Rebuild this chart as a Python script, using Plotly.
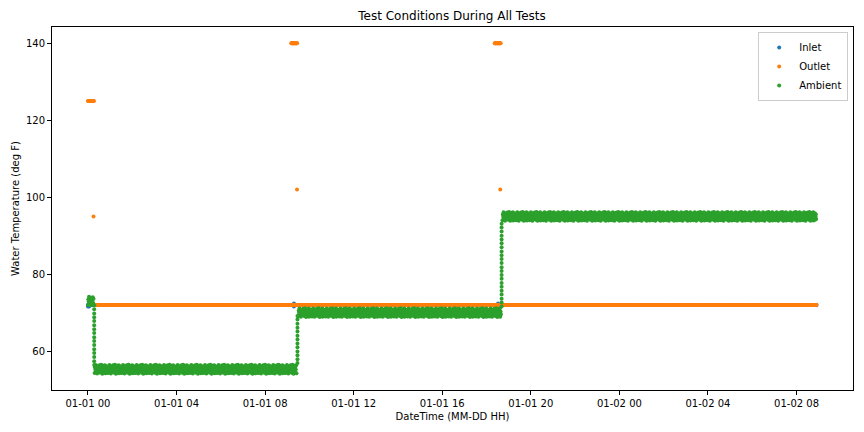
import numpy as np
import pandas as pd
import plotly.graph_objects as go

# Start of the logged period; every time below is hours after it
T0 = pd.Timestamp("2021-01-01 00:00")
STEP_MIN = 1

# Inlet: flat plateaus (start hr, end hr, deg F) plus a few stray readings
inlet_start = [0.0]
inlet_end = [32.9]
inlet_level = [72.0]
inlet_extra_hr = [0.0, 0.05, 9.30, 9.30, 18.52, 18.52]
inlet_extra_val = [71.6, 71.6, 72.4, 71.6, 72.4, 71.7]

# Outlet: plateaus, hot-draw plateaus and single spike readings
outlet_start = [0.0, 0.30, 9.18, 18.37]
outlet_end = [0.27, 32.9, 9.45, 18.65]
outlet_level = [125.0, 72.0, 140.0, 140.0]
outlet_spike_hr = [0.25, 9.44, 18.62]
outlet_spike_val = [95.0, 102.0, 102.0]

# Ambient: plateaus, sensor scatter around them, and the step changes
ambient_start = [0.0, 0.30, 9.50, 18.72]
ambient_end = [0.25, 9.42, 18.65, 32.9]
ambient_level = [73.0, 55.3, 70.0, 95.0]
ambient_scatter = [-1.0, 0.5, -0.1, 1.1, -0.6, 0.2, 0.8, -1.1, 0.4, -0.4,
                   0.7, -0.7, 0.0, 1.0, -0.5, 0.6, -0.9, 0.1, 1.15, -0.2,
                   0.4, -1.15, 0.2, -0.55, 0.9, -0.8, 0.65, -0.05, 1.05,
                   -1.05, 0.3, -0.4, 0.8, -0.9, 0.05, 0.55, -0.65]
step_hr = [0.28, 9.46, 18.68]
step_vals = [
    [71.9, 70.9, 69.8, 68.8, 67.8, 66.7, 65.7, 64.7, 63.6, 62.6, 61.6, 60.5,
     59.5, 58.5, 57.4, 56.4],
    [56.9, 57.9, 58.9, 59.9, 61.0, 62.0, 63.0, 64.0, 65.1, 66.1, 67.1, 68.2,
     69.1],
    [71.6, 72.6, 73.6, 74.7, 75.7, 76.7, 77.7, 78.8, 79.8, 80.8, 81.8, 82.9,
     83.9, 84.9, 85.9, 87.0, 88.0, 89.0, 90.0, 91.1, 92.1, 93.1],
]


def hours_to_time(hrs):
    return [T0 + pd.Timedelta(hours=h) for h in hrs]


def plateaus(starts, ends, levels, scatter=None):
    xs, ys = [], []
    for s, e, lv in zip(starts, ends, levels):
        hrs = np.arange(s, e + 1e-9, STEP_MIN / 60)
        xs.extend(hrs)
        if scatter:
            ys.extend(lv + scatter[i % len(scatter)] for i in range(len(hrs)))
        else:
            ys.extend([lv] * len(hrs))
    return xs, ys


in_x, in_y = plateaus(inlet_start, inlet_end, inlet_level)
in_x += inlet_extra_hr
in_y += inlet_extra_val

out_x, out_y = plateaus(outlet_start, outlet_end, outlet_level)
out_x += outlet_spike_hr
out_y += outlet_spike_val

amb_x, amb_y = plateaus(ambient_start, ambient_end, ambient_level, ambient_scatter)
for h, vals in zip(step_hr, step_vals):
    amb_x += [h] * len(vals)
    amb_y += vals

series = [
    ("Inlet", in_x, in_y, "#1f77b4"),
    ("Outlet", out_x, out_y, "#ff7f0e"),
    ("Ambient", amb_x, amb_y, "#2ca02c"),
]

fig = go.Figure()
for name, xs, ys, color in series:
    fig.add_trace(go.Scatter(
        x=hours_to_time(xs), y=ys, mode="markers", name=name,
        marker=dict(size=4, color=color, line=dict(width=0)),
    ))

axis_style = dict(
    showline=True, linecolor="black", linewidth=1, mirror=True,
    ticks="outside", ticklen=4, tickcolor="black", showgrid=False,
    zeroline=False, tickfont=dict(size=10, color="black"), automargin=False,
)

# the page body adds an 8px offset, so the figure is 8px smaller each way
fig.update_layout(
    width=856, height=424,
    margin=dict(l=44, r=11, t=19, b=42),
    paper_bgcolor="white", plot_bgcolor="white",
    font=dict(family="DejaVu Sans", size=10, color="black"),
    title=dict(text="Test Conditions During All Tests", x=444 / 856, xanchor="center",
               y=1 - 7.7 / 424, yanchor="middle", font=dict(size=12)),
    legend=dict(x=0.994, xanchor="right", y=0.986, yanchor="top",
                bgcolor="rgba(255,255,255,0.8)", bordercolor="#cccccc",
                borderwidth=1, font=dict(size=10)),
    showlegend=True,
)
fig.update_xaxes(
    **axis_style,
    type="date",
    range=[T0 + pd.Timedelta(hours=-1.625), T0 + pd.Timedelta(hours=34.55)],
    tick0=T0, dtick=4 * 3600 * 1000, tickformat="%m-%d %H",
    title=dict(text="DateTime (MM-DD HH)", standoff=4, font=dict(size=10)),
)
fig.update_yaxes(
    **axis_style,
    range=[49.9, 144.2], tick0=60, dtick=20,
    title=dict(text="Water Temperature (deg F)", standoff=4, font=dict(size=10)),
)

fig.write_html("out.html")
